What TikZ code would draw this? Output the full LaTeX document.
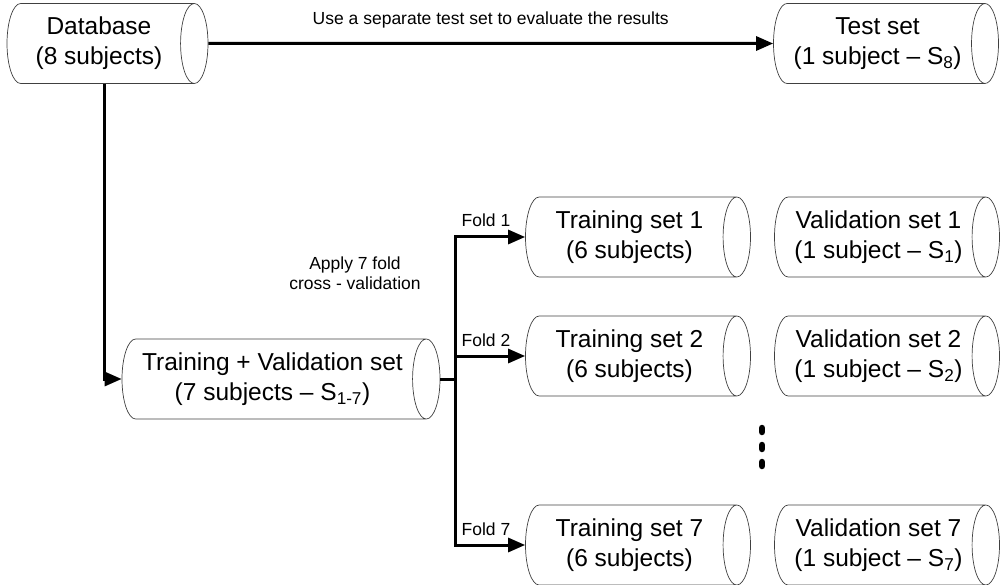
\documentclass[tikz,border=0pt]{standalone}
\usepackage{fontspec}
\setmainfont{Liberation Sans}
\usetikzlibrary{shapes.geometric,arrows.meta}

\begin{document}
\begin{tikzpicture}[x=1pt, y=-1pt, >={Triangle[length=17pt,width=14pt]},
  dset/.style={cylinder, draw=black!75, line width=0.7pt, shape aspect=0.5,
    minimum width=80pt, inner sep=1pt, align=center, anchor=shape center,
    font=\fontsize{24.5}{30}\selectfont},
  link/.style={line width=3pt},
  note/.style={font=\fontsize{17.5}{20}\selectfont, align=center, inner sep=0pt}]
\useasboundingbox (0,0) rectangle (1001,585);
% data sets
\node[dset, minimum height=201pt] (db)   at (107.5,43.5) {Database\\(8 subjects)};
\node[dset, minimum height=225pt] (test) at (886,43.5)   {Test set\\(1 subject -- S\textsubscript{8})};
\node[dset, minimum height=318pt] (tv)   at (281,379)    {Training + Validation set\\(7 subjects -- S\textsubscript{1-7})};
\foreach \k/\y in {1/237, 2/356, 7/545}{
    \node[dset, minimum height=225pt] (tr\k)  at (638,\y) {Training set \k\\(6 subjects)};
    \node[dset, minimum height=225pt] (val\k) at (887,\y) {Validation set \k\\(1 subject -- S\textsubscript{\k})};
    \coordinate (bus\k) at (455,\y);
    \node[note, anchor=base] (fold\k) at (486,\y-10) {Fold \k};
}
% connectors
\draw[link,->] (db.east) -- (test.west)
    node[note, midway, anchor=base, yshift=18.5pt] (sepnote) {Use a separate test set to evaluate the results};
\draw[link,->] ([xshift=6pt]db.south) |- (tv.west);
\draw[link] (tv.east) -- (tv.east -| bus1);
\draw[link,<->] (tr7.west) -- (bus7) -- (bus1) -- (tr1.west);
\draw[link,->] (bus2) -- (tr2.west);
\node[note] (cvnote) at (355,273) {Apply 7 fold\\cross - validation};
% dots
\foreach \d in {430,447,464}{
    \draw[line width=6.5pt, line cap=round] (762,\d-2) -- (762,\d+2);
}
\end{tikzpicture}
\end{document}
